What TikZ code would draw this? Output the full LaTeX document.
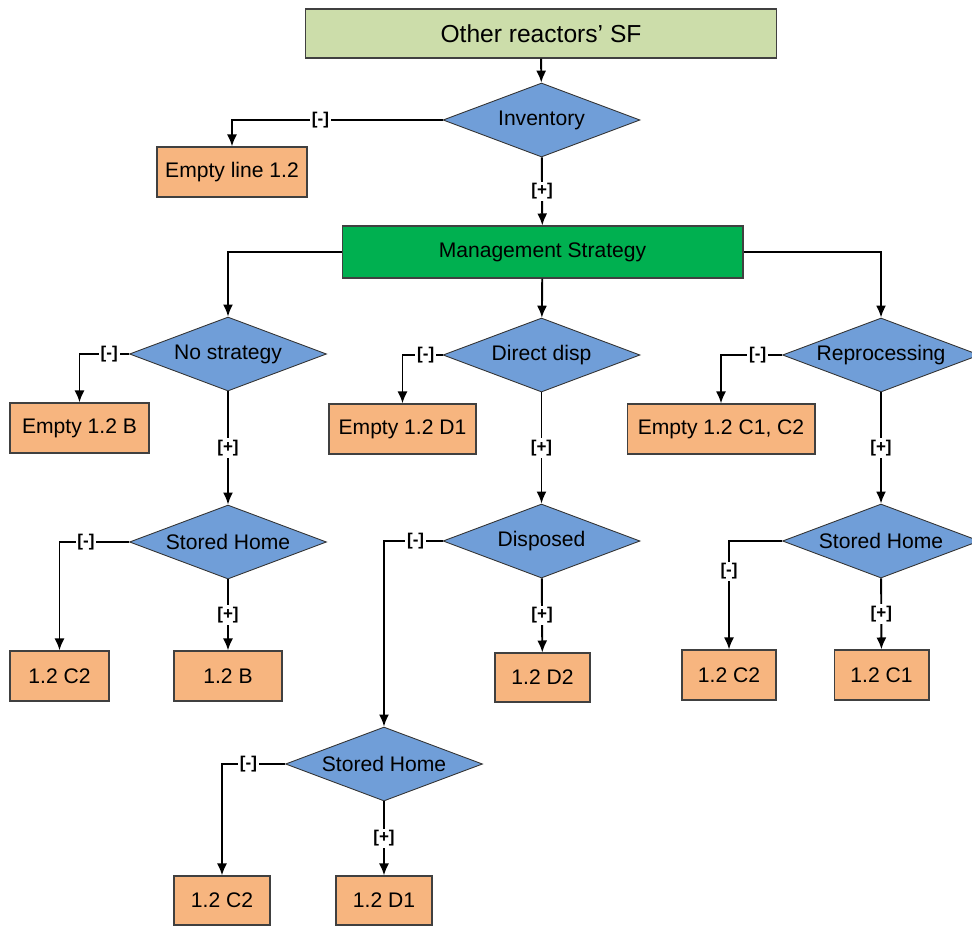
\documentclass[tikz,border=0pt]{standalone}
\usepackage{fontspec}
\setmainfont{Liberation Sans}
\usepackage{xcolor}
\usetikzlibrary{shapes.geometric,arrows.meta}

\definecolor{topgreen}{RGB}{204,221,170}
\definecolor{stratgreen}{RGB}{0,176,80}
\definecolor{askblue}{RGB}{112,158,216}
\definecolor{endorange}{RGB}{247,181,127}

\tikzset{
  txt/.style={font=\fontsize{12}{14}\selectfont},
  endbox/.style={txt, draw=black!75, line width=.6pt, fill=endorange, minimum height=1cm, inner sep=0pt},
  ask/.style={txt, diamond, draw=black!80, line width=.5pt, fill=askblue, aspect=2.66, inner sep=0pt, minimum width=3.94cm, minimum height=1.48cm},
  arr/.style={line width=1.1pt, -{Latex[length=2.4mm,width=2mm]}},
  yes/.style={fill=white, inner sep=1pt, font=\bfseries\fontsize{9.7}{11}\selectfont},
}

\begin{document}
\begin{tikzpicture}[x=0.02cm, y=-0.02cm]
\useasboundingbox (0,0) rectangle (972,926);
% top of the tree
\node[txt, draw=black!75, line width=.6pt, fill=topgreen, minimum width=9.44cm, minimum height=.98cm, font=\fontsize{14}{16}\selectfont] (sf) at (541,33.5) {Other reactors’ SF};
\node[ask] (inv) at (541.5,120) {Inventory};
\node[endbox, minimum width=3cm] (eline) at (232,172) {Empty line 1.2};
\node[txt, draw=black!75, line width=.6pt, fill=stratgreen, minimum width=8.02cm, minimum height=1.04cm] (ms) at (542.5,252) {Management Strategy};
% three strategies
\node[ask] (ns) at (228,354) {No strategy};
\node[ask] (dd) at (541.5,355) {Direct disp};
\node[ask] (rp) at (881,355) {Reprocessing};
\node[endbox, minimum width=2.78cm] (eb) at (79.5,428) {Empty 1.2 B};
\node[endbox, minimum width=2.94cm] (ed1) at (402.5,429) {Empty 1.2 D1};
\node[endbox, minimum width=3.76cm] (ec) at (721,429) {Empty 1.2 C1, C2};
% second level
\node[ask] (sh1) at (228,542) {Stored Home};
\node[ask] (dis) at (541.5,541) {Disposed};
\node[ask] (sh3) at (881,541) {Stored Home};
\node[endbox, minimum width=1.98cm] (c2a) at (59.5,676) {1.2 C2};
\node[endbox, minimum width=2.16cm] (b) at (228,676) {1.2 B};
\node[endbox, minimum width=1.9cm, minimum height=.98cm] (d2) at (542.5,677.5) {1.2 D2};
\node[endbox, minimum width=1.88cm] (c2c) at (729,675) {1.2 C2};
\node[endbox, minimum width=1.9cm] (c1) at (881.5,675) {1.2 C1};
% bottom
\node[ask] (sh2) at (384,764) {Stored Home};
\node[endbox, minimum width=1.92cm, minimum height=.98cm] (c2b) at (222,900.5) {1.2 C2};
\node[endbox, minimum width=1.92cm, minimum height=.98cm] (d1) at (384,900.5) {1.2 D1};

\draw[arr] (sf) -- (inv);
\draw[arr] (inv.west) -| node[yes, pos=.29] {[-]} (eline.north);
\draw[arr] (inv) -- node[yes] {[+]} (ms);
\draw[arr] (ms.west) -| (ns.north);
\draw[arr] (ms) -- (dd);
\draw[arr] (ms.east) -| (rp.north);

\draw[arr] (ns.west) -| node[yes, pos=.2] {[-]} (eb.north);
\draw[arr] (ns) -- node[yes] {[+]} (sh1);
\draw[arr] (sh1.west) -| node[yes, pos=.31] {[-]} (c2a.north);
\draw[arr] (sh1) -- node[yes] {[+]} (b);

\draw[arr] (dd.west) -| node[yes, pos=.21] {[-]} (ed1.north);
\draw[arr] (dd) -- node[yes] {[+]} (dis);
\draw[arr] (dis.west) -| node[yes, pos=.23] {[-]} (sh2.north);
\draw[arr] (dis) -- node[yes] {[+]} (d2);
\draw[arr] (sh2.west) -| node[yes, pos=.29] {[-]} (c2b.north);
\draw[arr] (sh2) -- node[yes] {[+]} (d1);

\draw[arr] (rp.west) -| node[yes, pos=.2] {[-]} (ec.north);
\draw[arr] (rp) -- node[yes] {[+]} (sh3);
\draw[arr] (sh3.west) -| node[yes, pos=.64] {[-]} (c2c.north);
\draw[arr] (sh3) -- node[yes] {[+]} (c1);
\end{tikzpicture}
\end{document}
